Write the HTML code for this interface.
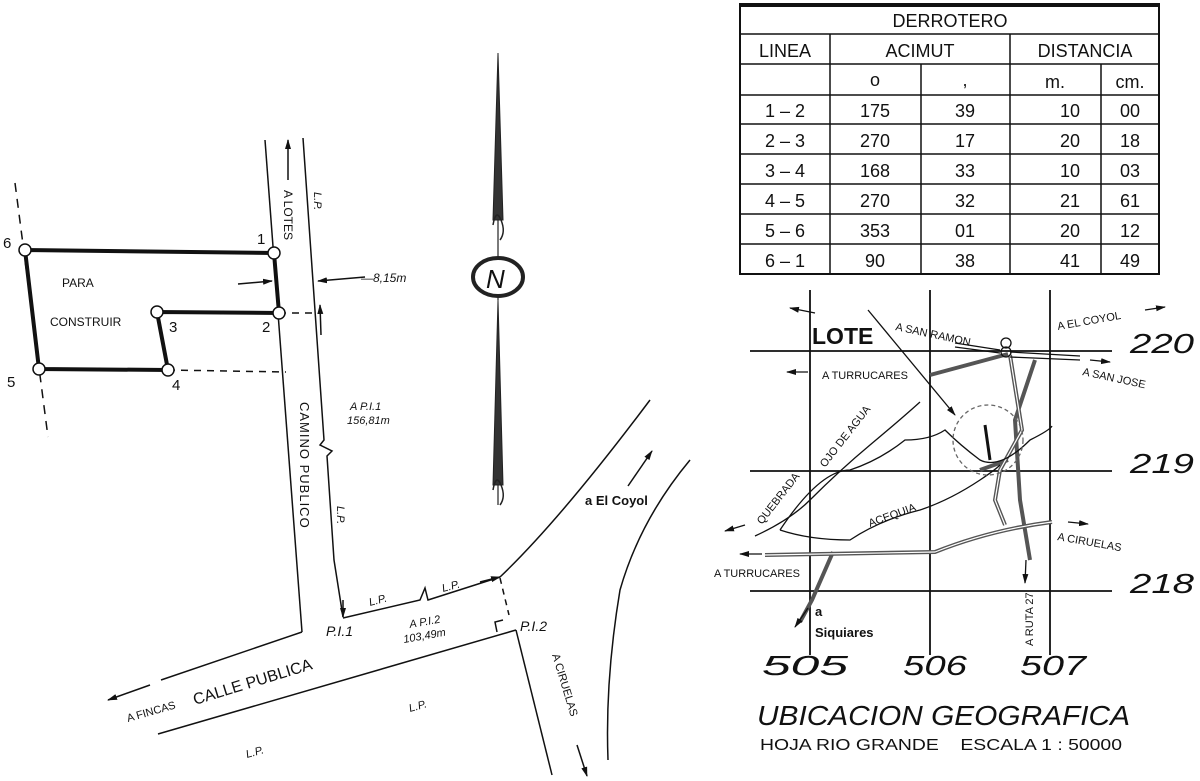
<!DOCTYPE html>
<html><head><meta charset="utf-8"><style>
html,body{margin:0;padding:0;background:#fff}
svg{display:block}
text{font-family:"Liberation Sans",sans-serif;fill:#111}
</style></head><body>
<svg width="1200" height="781" viewBox="0 0 1200 781" xmlns="http://www.w3.org/2000/svg">
<defs>
<marker id="ah" markerWidth="10" markerHeight="8" refX="9" refY="4" orient="auto" markerUnits="userSpaceOnUse"><path d="M0,1 L10,4 L0,7 Z" fill="#111"/></marker>
</defs>
<g stroke="#111" fill="none" stroke-width="1.5">
<line x1="15" y1="183" x2="48" y2="437" stroke-dasharray="9,7"/>
<line x1="279" y1="313" x2="320" y2="313" stroke-dasharray="7,6"/>
<line x1="168" y1="370" x2="286" y2="372" stroke-dasharray="7,6"/>
<polygon points="25,250 274,253 279,313 157,312 168,370 39,369" stroke-width="4"/>
<line x1="265" y1="140" x2="302" y2="632"/>
<path d="M303,138 L324,440 L320,445 L332,451 L327,456 L334,560 L343,617"/>
<line x1="288" y1="180" x2="288" y2="140" marker-end="url(#ah)"/>
<line x1="321" y1="335" x2="320" y2="305" marker-end="url(#ah)"/>
<line x1="365" y1="277" x2="318" y2="281" marker-end="url(#ah)"/>
<line x1="238" y1="284" x2="272" y2="281" marker-end="url(#ah)"/>
<line x1="343" y1="600" x2="343" y2="617" marker-end="url(#ah)"/>
<path d="M343,618 L420,600 L425,588 L428,600 L500,577" />
<line x1="480" y1="582" x2="500" y2="577" marker-end="url(#ah)"/>
<line x1="500" y1="578" x2="509" y2="615" stroke-dasharray="6,5"/>
<path d="M497,632 L495,622 L503,620"/>
<line x1="302" y1="632" x2="161" y2="680"/>
<line x1="150" y1="685" x2="108" y2="700" marker-end="url(#ah)"/>
<line x1="158" y1="734" x2="516" y2="630"/>
<line x1="516" y1="630" x2="552" y2="775"/>
<path d="M500,577 Q560,520 650,400"/>
<path d="M690,460 Q640,520 620,590 Q605,680 608,760"/>
<line x1="628" y1="486" x2="652" y2="451" marker-end="url(#ah)"/>
<line x1="577" y1="745" x2="587" y2="776" marker-end="url(#ah)"/>
</g>
<g fill="#fff" stroke="#111" stroke-width="1.5">
<circle cx="25" cy="250" r="6"/><circle cx="274" cy="253" r="6"/><circle cx="279" cy="313" r="6"/>
<circle cx="157" cy="312" r="6"/><circle cx="168" cy="370" r="6"/><circle cx="39" cy="369" r="6"/>
</g>
<g font-size="15">
<text x="3" y="248">6</text><text x="257" y="244">1</text><text x="262" y="332">2</text>
<text x="169" y="332">3</text><text x="172" y="390">4</text><text x="7" y="387">5</text>
</g>
<text x="62" y="287" font-size="12">PARA</text>
<text x="50" y="326" font-size="12">CONSTRUIR</text>
<text x="361" y="282" font-size="12" font-style="italic">—8,15m</text>
<text font-size="12" transform="translate(284,190) rotate(90)">A LOTES</text>
<text font-size="11" font-style="italic" transform="translate(314,192) rotate(90)">L.P.</text>
<text font-size="11" font-style="italic" transform="translate(337,506) rotate(90)">L.P.</text>
<text font-size="13" transform="translate(300,402) rotate(90)" letter-spacing="1">CAMINO PUBLICO</text>
<text x="350" y="410" font-size="11" font-style="italic">A P.I.1</text>
<text x="347" y="424" font-size="11" font-style="italic">156,81m</text>
<text x="326" y="636" font-size="14" font-style="italic">P.I.1</text>
<text x="520" y="631" font-size="14" font-style="italic">P.I.2</text>
<text x="410" y="628" font-size="11" font-style="italic" transform="rotate(-10 410 628)">A P.I.2</text>
<text x="404" y="643" font-size="11" font-style="italic" transform="rotate(-10 404 643)">103,49m</text>
<text x="370" y="606" font-size="11" font-style="italic" transform="rotate(-15 370 606)">L.P.</text>
<text x="443" y="592" font-size="11" font-style="italic" transform="rotate(-15 443 592)">L.P.</text>
<text x="410" y="712" font-size="11" font-style="italic" transform="rotate(-16 410 712)">L.P.</text>
<text x="247" y="758" font-size="11" font-style="italic" transform="rotate(-16 247 758)">L.P.</text>
<text x="128" y="722" font-size="11" transform="rotate(-16 128 722)">A FINCAS</text>
<text x="195" y="705" font-size="16" transform="rotate(-17 195 705)">CALLE PUBLICA</text>
<text x="552" y="655" font-size="11" transform="rotate(73 552 655)">A CIRUELAS</text>
<text x="585" y="505" font-size="13" font-weight="bold">a El Coyol</text>
<g stroke="#222">
<path d="M498,53 L503,220 L493,220 Z" fill="#333" stroke-width="1"/>
<path d="M498,300 L503,485 L493,485 Z" fill="#333" stroke-width="1"/>
<line x1="498" y1="220" x2="498" y2="300" stroke-width="1.2"/>
<line x1="498" y1="485" x2="498" y2="505" stroke-width="1.2"/>
<path d="M493,225 Q496,208 501,220 Q506,232 500,240" fill="none" stroke-width="1.5"/>
<path d="M493,490 Q496,473 501,485 Q506,497 500,505" fill="none" stroke-width="1.5"/>
<ellipse cx="498" cy="277" rx="25" ry="19" fill="#fff" stroke-width="4"/>
</g>
<text x="486" y="288" font-size="26" font-family="Liberation Serif" font-style="italic">N</text>
<g stroke="#111" stroke-width="1.5" fill="none">
<rect x="740" y="4" width="419" height="270" stroke-width="2"/>
<line x1="740" y1="5" x2="1159" y2="5" stroke-width="4"/>
<line x1="740" y1="34" x2="1159" y2="34"/><line x1="740" y1="64" x2="1159" y2="64"/>
<line x1="740" y1="95" x2="1159" y2="95"/><line x1="740" y1="124" x2="1159" y2="124"/>
<line x1="740" y1="154" x2="1159" y2="154"/><line x1="740" y1="184" x2="1159" y2="184"/>
<line x1="740" y1="214" x2="1159" y2="214"/><line x1="740" y1="244" x2="1159" y2="244"/>
<line x1="830" y1="34" x2="830" y2="274"/><line x1="1010" y1="34" x2="1010" y2="274"/>
<line x1="921" y1="64" x2="921" y2="274"/><line x1="1101" y1="64" x2="1101" y2="274"/>
</g>
<g font-size="18" text-anchor="middle">
<text x="950" y="27">DERROTERO</text>
<text x="785" y="57">LINEA</text><text x="920" y="57">ACIMUT</text><text x="1085" y="57">DISTANCIA</text>
<text x="875" y="86">o</text><text x="965" y="86">,</text><text x="1055" y="88">m.</text><text x="1130" y="88">cm.</text>
<text x="785" y="117">1 – 2</text><text x="875" y="117">175</text><text x="965" y="117">39</text><text x="1080" y="117" text-anchor="end">10</text><text x="1130" y="117">00</text>
<text x="785" y="147">2 – 3</text><text x="875" y="147">270</text><text x="965" y="147">17</text><text x="1080" y="147" text-anchor="end">20</text><text x="1130" y="147">18</text>
<text x="785" y="177">3 – 4</text><text x="875" y="177">168</text><text x="965" y="177">33</text><text x="1080" y="177" text-anchor="end">10</text><text x="1130" y="177">03</text>
<text x="785" y="207">4 – 5</text><text x="875" y="207">270</text><text x="965" y="207">32</text><text x="1080" y="207" text-anchor="end">21</text><text x="1130" y="207">61</text>
<text x="785" y="237">5 – 6</text><text x="875" y="237">353</text><text x="965" y="237">01</text><text x="1080" y="237" text-anchor="end">20</text><text x="1130" y="237">12</text>
<text x="785" y="267">6 – 1</text><text x="875" y="267">90</text><text x="965" y="267">38</text><text x="1080" y="267" text-anchor="end">41</text><text x="1130" y="267">49</text>
</g>
<g stroke="#111" stroke-width="1.8" fill="none">
<line x1="810" y1="290" x2="810" y2="655"/><line x1="930" y1="290" x2="930" y2="655"/><line x1="1050" y1="290" x2="1050" y2="655"/>
<line x1="750" y1="351" x2="1112" y2="351"/><line x1="750" y1="471" x2="1112" y2="471"/><line x1="750" y1="591" x2="1112" y2="591"/>
</g>
<g stroke="#555" stroke-width="4" fill="none">
<path d="M930,375 L1008,354"/>
<path d="M1035,360 L1015,420 L1020,500 L1030,560"/>
<path d="M1010,355 L1022,430 L1000,470 L995,500 L1005,525"/>
<path d="M765,555 L935,552 Q990,530 1052,522"/>
<path d="M833,552 L812,600 L800,622"/>
<path d="M980,470 L1008,460"/>
</g>
<g stroke="#fff" stroke-width="1.2" fill="none">
<path d="M1010,355 L1022,430 L1000,470 L995,500 L1005,525"/>
<path d="M765,555 L935,552 Q990,530 1052,522"/>
</g>
<g stroke="#111" stroke-width="1.3" fill="none">
<path d="M955,343 L1000,350 M955,347 L1000,353"/>
<path d="M1010,352 L1080,356 M1010,357 L1080,360"/>
<circle cx="1006" cy="343" r="5"/><circle cx="1006" cy="352" r="5"/>
<path d="M755,536 Q790,520 810,500 Q840,470 870,445 Q900,420 920,402"/>
<path d="M780,530 Q820,470 850,470 Q880,460 905,440 Q930,440 945,430 Q960,445 980,460 Q1000,470 1030,440 Q1050,430 1052,426"/>
<path d="M780,530 Q810,540 850,540 Q880,520 920,510 Q950,500 980,480 Q995,470 1000,465"/>
<line x1="868" y1="310" x2="955" y2="415" marker-end="url(#ah)"/>
<circle cx="988" cy="440" r="35" stroke-dasharray="4,3" stroke="#666"/>
<path d="M985,425 L990,460" stroke-width="3"/>
<line x1="808" y1="372" x2="787" y2="372" marker-end="url(#ah)"/>
<line x1="815" y1="313" x2="790" y2="308" marker-end="url(#ah)"/>
<line x1="1145" y1="310" x2="1165" y2="307" marker-end="url(#ah)"/>
<line x1="1090" y1="360" x2="1110" y2="362" marker-end="url(#ah)"/>
<line x1="745" y1="525" x2="725" y2="531" marker-end="url(#ah)"/>
<line x1="1068" y1="522" x2="1088" y2="524" marker-end="url(#ah)"/>
<line x1="762" y1="554" x2="740" y2="554" marker-end="url(#ah)"/>
<line x1="808" y1="608" x2="795" y2="627" marker-end="url(#ah)"/>
<line x1="1026" y1="560" x2="1025" y2="583" marker-end="url(#ah)"/>
</g>
<text x="812" y="344" font-size="23" font-weight="bold">LOTE</text>
<text x="895" y="330" font-size="11" transform="rotate(12 895 330)">A SAN RAMON</text>
<text x="1058" y="330" font-size="11" transform="rotate(-10 1058 330)">A EL COYOL</text>
<text x="1082" y="375" font-size="11" transform="rotate(12 1082 375)">A SAN JOSE</text>
<text x="822" y="379" font-size="11">A TURRUCARES</text>
<text x="762" y="525" font-size="11" transform="rotate(-52 762 525)">QUEBRADA</text>
<text x="825" y="468" font-size="11" transform="rotate(-52 825 468)">OJO DE AGUA</text>
<text x="870" y="527" font-size="11" transform="rotate(-20 870 527)">ACEQUIA</text>
<text x="1057" y="540" font-size="11" transform="rotate(10 1057 540)">A CIRUELAS</text>
<text x="714" y="577" font-size="11">A TURRUCARES</text>
<text x="815" y="616" font-size="13" font-weight="bold">a</text>
<text x="815" y="637" font-size="13" font-weight="bold">Siquiares</text>
<text x="1033" y="646" font-size="11" transform="rotate(-90 1033 646)">A RUTA 27</text>
<g font-size="28" font-style="italic">
<text x="1130" y="353" textLength="64" lengthAdjust="spacingAndGlyphs">220</text><text x="1130" y="473" textLength="64" lengthAdjust="spacingAndGlyphs">219</text><text x="1130" y="593" textLength="64" lengthAdjust="spacingAndGlyphs">218</text>
<text x="762" y="675" textLength="86" lengthAdjust="spacingAndGlyphs">505</text><text x="903" y="675" textLength="64" lengthAdjust="spacingAndGlyphs">506</text><text x="1020" y="675" textLength="66" lengthAdjust="spacingAndGlyphs">507</text>
</g>
<text x="757" y="725" font-size="28" font-family="Liberation Serif" font-style="italic" textLength="373" lengthAdjust="spacingAndGlyphs">UBICACION GEOGRAFICA</text>
<text x="760" y="750" font-size="16" textLength="362" lengthAdjust="spacingAndGlyphs" xml:space="preserve">HOJA RIO GRANDE    ESCALA 1 : 50000</text>
</svg>
</body></html>
